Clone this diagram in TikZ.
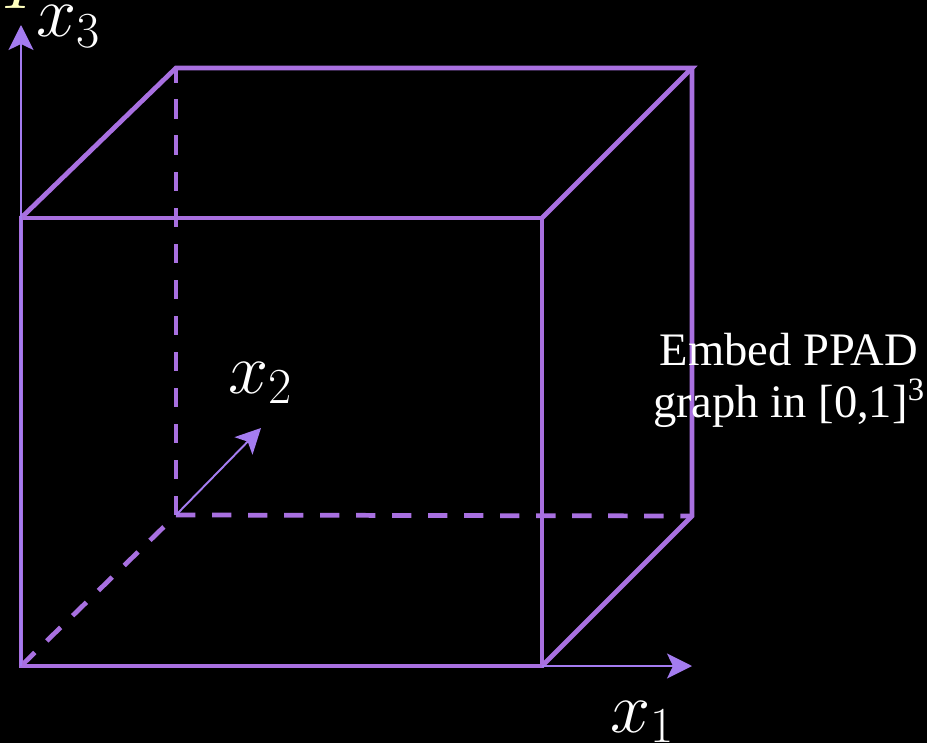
\RequirePackage{fix-cm}
\documentclass[tikz,border=0pt]{standalone}
\usepackage{fontspec}
\newfontfamily\captionfont{Liberation Serif}
\definecolor{cubepurple}{RGB}{168, 112, 224}
\definecolor{axispurple}{RGB}{164, 124, 240}
\definecolor{labelyellow}{RGB}{255, 255, 190}
\usetikzlibrary{arrows.meta}

\begin{document}
\begin{tikzpicture}[x=0.02cm, y=-0.02cm, every node/.style={inner sep=0pt, text=white},
    edge/.style={cubepurple, line width=2.7pt},
    hidden/.style={edge, dash pattern=on 11pt off 9.5pt},
    axis/.style={axispurple, line width=1.1pt, -{Stealth[length=0.5cm, width=0.5cm, inset=0.12cm]}},
    axislabel/.style={anchor=base west, font=\fontsize{41}{44}\selectfont}]
    \useasboundingbox (0,0) rectangle (946,743);
    \fill [white] (0,0) rectangle (946,743);
    \fill [black] (0,0) rectangle (927,743);

    % corners of the cube
    \coordinate (fbl) at (21,666);
    \coordinate (fbr) at (542,666);
    \coordinate (ftr) at (542,218);
    \coordinate (ftl) at (21,218);
    \coordinate (bbl) at (176,515);
    \coordinate (bbr) at (692,516);
    \coordinate (btr) at (692,68);
    \coordinate (btl) at (176,68);

    \draw [hidden] (fbl) -- (bbl);
    \draw [hidden] (bbl) -- (btl);
    \draw [hidden] (bbl) -- (bbr);

    \draw [edge] (fbl) -- (fbr) -- (ftr) -- (ftl) -- cycle;
    \draw [edge] (ftl) -- (btl) -- (btr) -- (ftr);
    \draw [edge] (btr) -- (bbr) -- (fbr);

    % axes
    \coordinate (tip3) at (21,25);
    \coordinate (tip1) at (692,666);
    \coordinate (tip2) at (261,428);
    \draw [axis] (fbl) -- (tip3);
    \draw [axis] (fbr) -- (tip1);
    \draw [axis] (bbl) -- (tip2);

    \node [axislabel] (lab3) at (36,37) {$x_3$};
    \node [axislabel] (lab2) at (228,393) {$x_2$};
    \node [axislabel] (lab1) at (610,732) {$x_1$};

    \node [align=center, font=\captionfont\fontsize{26.5}{29.6}\selectfont] (caption) at (789,380) {
        Embed PPAD\\
        graph in [0,1]\textsuperscript{3}
    };

    \begin{scope}
        \clip (0,0) rectangle (927,743);
        \node [text=labelyellow, anchor=base, font=\fontsize{41}{44}\selectfont] (cutoff) at (21,9) {$I$};
    \end{scope}
\end{tikzpicture}
\end{document}
